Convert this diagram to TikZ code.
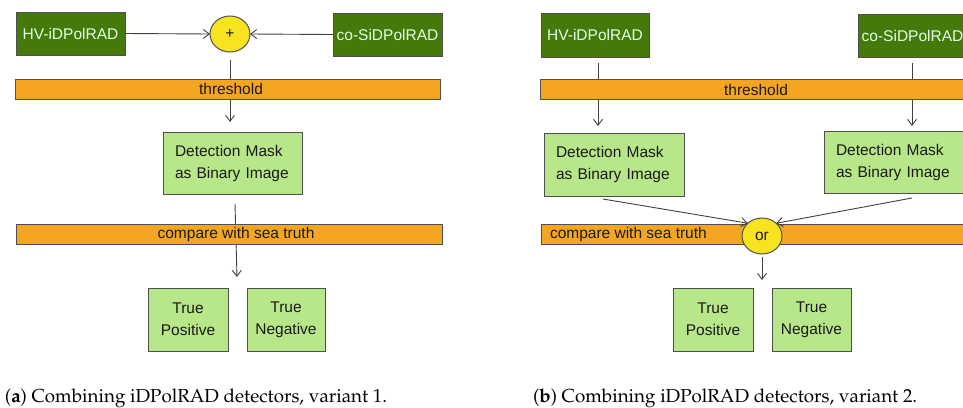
\documentclass[tikz,border=0pt]{standalone}
\usepackage{fontspec}
\setmainfont{Liberation Sans}
\usetikzlibrary{arrows.meta,shapes.geometric}
\definecolor{dgreen}{HTML}{437A0B}
\definecolor{lgreen}{HTML}{B8E78A}
\definecolor{orangebar}{HTML}{F4A623}
\definecolor{yell}{HTML}{F7E31F}
\definecolor{edge}{HTML}{505050}
\definecolor{txt}{HTML}{1A1A1A}
\tikzset{
  x=1pt,y=-1pt,
  every node/.style={inner sep=0pt,outer sep=0pt,font=\fontsize{15.5}{22}\selectfont,text=txt},
  detbox/.style={draw=edge,line width=1pt,fill=dgreen,text=white!90!green,minimum width=109pt,minimum height=43pt},
  lbox/.style={draw=edge,line width=1pt,fill=lgreen,align=left},
  bar/.style={draw=edge,line width=1pt,fill=orangebar,minimum height=20pt},
  opnode/.style={ellipse,draw=edge,line width=1pt,fill=yell,minimum width=40pt,minimum height=36pt},
  conn/.style={draw=edge!80!black,line width=0.9pt,-{Straight Barb[length=6pt,width=9pt]}},
  captxt/.style={font=\fontencoding{T1}\fontfamily{ppl}\fontsize{18.8}{21}\selectfont,text=black,anchor=base west}
}
\begin{document}
\begin{tikzpicture}
\useasboundingbox (0,0) rectangle (963,407);
% ---------- panel (a) ----------
\node[detbox] (ahv) at (70.5,33.5) {HV-iDPolRAD};
\node[detbox] (aco) at (387.5,34.5) {co-SiDPolRAD};
\node[opnode] (aplus) at (230,34) {+};
\coordinate (athr) at (230,122);
\draw[conn] (aplus.south) ++(0,8) coordinate (aps) -- (athr);
\node[bar,minimum width=425pt] (athrbar) at (227.5,89) {};
\node at (231,89) {threshold};
\draw[conn] (ahv.east) -- (aplus.west);
\draw[conn] (aco.west) -- (aplus.east);
\node[lbox,minimum width=139pt,minimum height=62pt,text width=115pt] (adm) at (232.5,163) {Detection Mask\\as Binary Image};
\coordinate (acmpin) at (235,204);
\coordinate (acmpout) at (237,277);
\draw[conn] (acmpin) -- (acmpout);
\node[bar,minimum width=426pt] (acmp) at (229,234) {};
\node at (236,234) {compare with sea truth};
\node[lbox,align=center,minimum width=80pt,minimum height=63pt] (atp) at (188,319.5) {True\\Positive};
\node[lbox,align=center,minimum width=78pt,minimum height=63pt] (atn) at (286,319.5) {True\\Negative};
% ---------- panel (b) ----------
\node[detbox,minimum width=108pt,minimum height=44pt] (bhv) at (595,35) {HV-iDPolRAD};
\node[detbox,anchor=west] (bco) at (858,35.5) {co-SiDPolRAD};
\coordinate (bl1) at (598,63); \coordinate (bl2) at (598,126);
\coordinate (br1) at (912,63); \coordinate (br2) at (912,126);
\draw[conn] (bl1) -- (bl2);
\draw[conn] (br1) -- (br2);
\node[bar,minimum width=430pt,anchor=west] (bthr) at (540,89.5) {};
\node at (756,89.5) {threshold};
\node[lbox,minimum width=140pt,minimum height=63pt,text width=116pt] (bdml) at (614,164.5) {Detection Mask\\as Binary Image};
\node[lbox,minimum width=140pt,minimum height=62pt,text width=116pt,anchor=west] (bdmr) at (824,162) {Detection Mask\\as Binary Image};
\node[bar,minimum width=430pt,anchor=west] (bcmp) at (541,234) {};
\node[anchor=west] at (550,234) {compare with sea truth};
\node[opnode] (bor) at (762,236) {or};
\coordinate (bdlo) at (603,199);
\coordinate (bdro) at (912,198);
\draw[conn] (bdlo) -- (bor.north west);
\draw[conn] (bdro) -- (bor.north east);
\coordinate (borout) at (762,280);
\draw[conn] (bor.south) ++(0,3) -- (borout);
\node[lbox,align=center,minimum width=80pt,minimum height=63pt] (btp) at (713,319.5) {True\\Positive};
\node[lbox,align=center,minimum width=79pt,minimum height=63pt] (btn) at (811.5,319.5) {True\\Negative};
% ---------- captions ----------
\node[captxt] (capa) at (5,402) {(\textbf{a}) Combining iDPolRAD detectors, variant 1.};
\node[captxt] (capb) at (533,402) {(\textbf{b}) Combining iDPolRAD detectors, variant 2.};
\end{tikzpicture}
\end{document}
